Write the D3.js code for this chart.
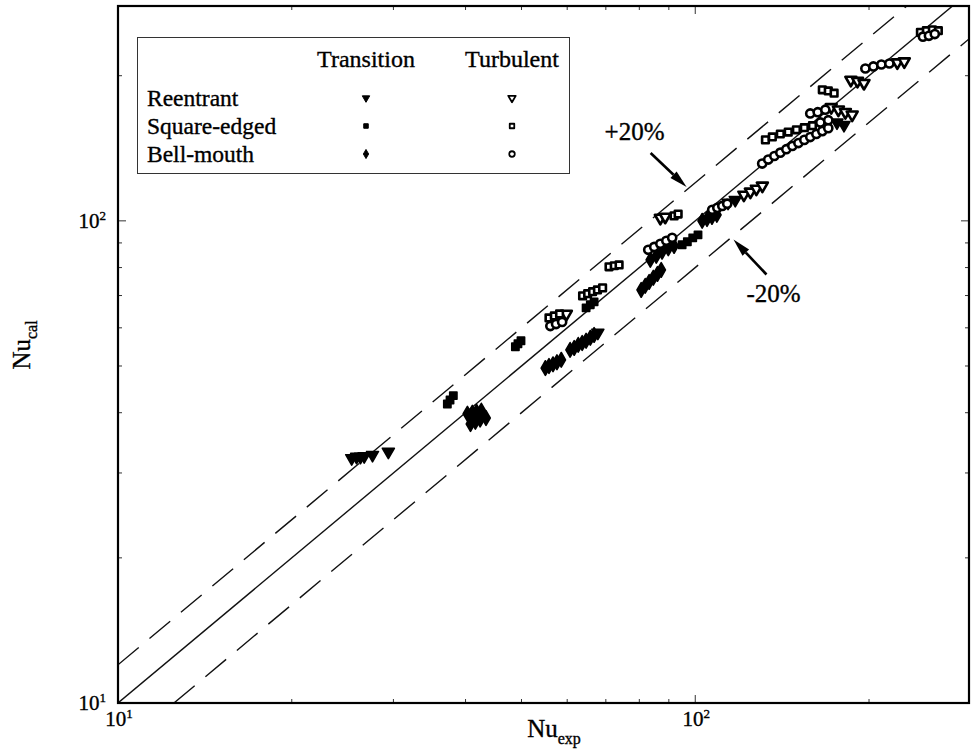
<!DOCTYPE html>
<html>
<head>
<meta charset="utf-8">
<script src="https://cdn.jsdelivr.net/npm/d3@7"></script>
<style>
  body { margin: 0; background: #fff; }
  svg { display: block; font-family: "Liberation Serif", "Times New Roman", serif; }
  text { stroke: #000; stroke-width: 0.35px; }
</style>
</head>
<body>
<svg id="chart" width="971" height="751"></svg>
<script>
// Nu_exp / Nu_cal pairs for each inlet type and flow regime
const reentrantTransition = [
  [25.4, 32.2], [25.9, 32.4], [26.3, 32.4], [26.7, 32.5], [27.6, 32.7], [29.4, 33.2],
  [67.8, 58.6],
  [114.0, 109.0], [117.3, 110.5],
  [176, 160], [181, 158]
];
const squareTransition = [
  [37.2, 41.7], [37.6, 42.5], [38.1, 43.4],
  [48.8, 54.8], [49.3, 55.6], [49.9, 56.4],
  [64.7, 66.0], [65.8, 67.0], [66.8, 67.9],
  [94.9, 89.2], [96.9, 90.5], [99.0, 92.2], [101.1, 93.5]
];
const bellTransition = [
  [40.3, 39.8], [41.1, 40.0], [41.8, 40.2], [42.6, 40.4],
  [40.8, 37.9], [41.6, 38.3], [42.4, 38.7], [43.4, 39.0],
  [55.0, 49.5], [55.8, 50.0], [56.7, 50.4], [57.6, 50.9], [58.6, 51.5],
  [60.7, 54.0], [61.7, 54.5], [62.7, 55.3], [63.7, 55.8], [64.7, 56.4], [65.8, 57.2], [66.8, 58.0],
  [80.6, 71.9], [81.9, 73.3], [83.2, 74.7], [84.6, 76.2], [86.0, 77.6], [87.3, 79.1],
  [83.6, 83.0], [85.6, 84.6], [87.6, 86.3], [89.8, 87.7], [91.9, 88.7],
  [102.8, 100.0], [104.8, 100.9], [106.9, 101.9], [109.0, 102.9]
];
const reentrantTurbulent = [
  [59.8, 64.1],
  [87.0, 101.4], [88.7, 101.9],
  [121.4, 113.2], [124.6, 114.9], [127.6, 116.5], [130.7, 118.2],
  [172, 172], [177, 170], [182, 168], [187, 166],
  [186, 196], [191, 195], [196, 193],
  [223.9, 213], [230.2, 214]
];
const squareTurbulent = [
  [55.8, 62.9], [57.0, 63.5], [58.2, 64.1],
  [63.8, 69.9], [65.1, 70.6], [66.4, 71.3], [67.7, 71.9], [69.1, 72.6],
  [70.9, 80.3], [72.4, 80.7], [73.8, 81.0],
  [91.9, 102.4], [93.4, 103.3],
  [132.3, 147.2], [136.0, 149.3], [140.4, 151.4], [144.9, 152.8], [149.7, 154.5], [154.5, 156.0], [159.6, 157.5],
  [166, 187], [170, 186], [174, 184],
  [245.5, 246], [251.4, 248], [257.5, 249], [263.7, 248]
];
const bellTurbulent = [
  [56.1, 60.5], [57.4, 61.1], [58.8, 61.7],
  [82.9, 87.1], [84.9, 88.3], [87.0, 89.6], [89.1, 90.9], [91.2, 92.2],
  [107.0, 105.4], [109.2, 106.4], [111.4, 107.4], [113.6, 108.5],
  [130.6, 131.5], [133.8, 134.0], [137.1, 136.3], [140.4, 138.5], [143.8, 140.8], [147.3, 143.0],
  [150.9, 145.0], [154.5, 147.2], [158.2, 149.2], [162.1, 151.4], [166.0, 153.5], [170.0, 155.7],
  [164.7, 160.0], [170.0, 161.7],
  [158.2, 167], [163, 168], [168, 170],
  [197.1, 207], [203.5, 209], [210.1, 211], [216.9, 212],
  [248, 241], [254, 242], [260, 244]
];

// axis ranges and ticks
const xDomain = [10, 298];
const yDomain = [10, 279];
const majorTicks = [10, 100];
const majorExponents = ["1", "2"];
const minorTicks = [20, 30, 40, 50, 60, 70, 80, 90, 200];

// deviation bands around the perfect-agreement line
const bandFactors = [1.0, 1.2, 0.8];
const bandLabels = ["+20%", "-20%"];

// legend rows / columns
const legendColumns = ["Transition", "Turbulent"];
const legendRows = ["Reentrant", "Square-edged", "Bell-mouth"];

const series = [
  { data: reentrantTransition, shape: "tri", filled: true },
  { data: squareTransition, shape: "square", filled: true },
  { data: bellTransition, shape: "diamond", filled: true },
  { data: reentrantTurbulent, shape: "tri", filled: false },
  { data: squareTurbulent, shape: "square", filled: false },
  { data: bellTurbulent, shape: "circle", filled: false }
];

const svg = d3.select("#chart");
const plot = { l: 118, r: 969, t: 6, b: 703 };

const x = d3.scaleLog().domain(xDomain).range([plot.l, plot.r]);
const y = d3.scaleLog().domain(yDomain).range([plot.b, plot.t]);

svg.append("rect").attr("width", 971).attr("height", 751).attr("fill", "#fff");

svg.append("defs").append("clipPath").attr("id", "plotClip")
  .append("rect")
  .attr("x", plot.l).attr("y", plot.t)
  .attr("width", plot.r - plot.l).attr("height", plot.b - plot.t);

// y = k x lines
const line = d3.line().x(d => x(d[0])).y(d => y(d[1]));
const guideG = svg.append("g").attr("clip-path", "url(#plotClip)");
bandFactors.forEach((k, i) => {
  const x0 = k < 1 ? yDomain[0] / k : xDomain[0];
  guideG.append("path")
    .attr("d", line([[x0, x0 * k], [xDomain[1], xDomain[1] * k]]))
    .attr("fill", "none")
    .attr("stroke", "#111")
    .attr("stroke-width", 1.4)
    .attr("stroke-dasharray", i === 0 ? null : "27,14");
});

// ticks on all four sides, pointing inward
const tickG = svg.append("g").attr("stroke", "#333").attr("stroke-width", 1);
function drawTicks(vals, len) {
  vals.forEach(v => {
    if (v >= xDomain[0] && v <= xDomain[1]) {
      tickG.append("line").attr("x1", x(v)).attr("x2", x(v)).attr("y1", plot.b).attr("y2", plot.b - len);
      tickG.append("line").attr("x1", x(v)).attr("x2", x(v)).attr("y1", plot.t).attr("y2", plot.t + len);
    }
    if (v >= yDomain[0] && v <= yDomain[1]) {
      tickG.append("line").attr("y1", y(v)).attr("y2", y(v)).attr("x1", plot.l).attr("x2", plot.l + len);
      tickG.append("line").attr("y1", y(v)).attr("y2", y(v)).attr("x1", plot.r).attr("x2", plot.r - len);
    }
  });
}
drawTicks(majorTicks, 8);
drawTicks(minorTicks, 4);

// frame
svg.append("rect")
  .attr("x", plot.l).attr("y", plot.t)
  .attr("width", plot.r - plot.l).attr("height", plot.b - plot.t)
  .attr("fill", "none").attr("stroke", "#000").attr("stroke-width", 2.2);

// tick labels 10^n
const labG = svg.append("g").attr("font-size", 21).attr("fill", "#000");
majorTicks.forEach((v, i) => {
  const tx = labG.append("text").attr("x", x(v) + 1).attr("y", 726).attr("text-anchor", "middle");
  tx.append("tspan").text("10");
  tx.append("tspan").attr("dy", -8).attr("font-size", 13).text(majorExponents[i]);
  const ty = labG.append("text").attr("x", plot.l - 12).attr("y", y(v) + 7).attr("text-anchor", "end");
  ty.append("tspan").text("10");
  ty.append("tspan").attr("dy", -8).attr("font-size", 13).text(majorExponents[i]);
});

// axis titles
const xt = svg.append("text").attr("x", 554).attr("y", 737).attr("text-anchor", "middle").attr("font-size", 25);
xt.append("tspan").text("Nu");
xt.append("tspan").attr("dy", 7).attr("font-size", 16).text("exp");
const yt = svg.append("text").attr("transform", "translate(30,345) rotate(-90)").attr("text-anchor", "middle").attr("font-size", 25);
yt.append("tspan").text("Nu");
yt.append("tspan").attr("dy", 7).attr("font-size", 16).text("cal");

// marker shapes
function symbolPath(shape, size) {
  if (shape === "tri") return d3.symbol().type(d3.symbolTriangle).size(size)();
  if (shape === "square") return d3.symbol().type(d3.symbolSquare).size(size * 0.85)();
  if (shape === "diamond") return d3.symbol().type(d3.symbolDiamond).size(size)();
  return d3.symbol().type(d3.symbolCircle).size(size)();
}
function drawMarker(g, shape, filled, cx, cy, size, sw) {
  g.append("path")
    .attr("d", symbolPath(shape, size))
    .attr("transform", `translate(${cx},${cy})` + (shape === "tri" ? " rotate(180)" : ""))
    .attr("fill", filled ? "#000" : "#fff")
    .attr("stroke", "#000")
    .attr("stroke-width", sw)
    .attr("stroke-linejoin", "round");
}

const markG = svg.append("g").attr("clip-path", "url(#plotClip)");
series.forEach(s => {
  s.data.forEach(d => {
    drawMarker(markG, s.shape, s.filled, x(d[0]), y(d[1]), s.filled ? 62 : 52, s.filled ? 1.6 : 2.6);
  });
});

// legend
const lg = svg.append("g");
lg.append("rect").attr("x", 137.5).attr("y", 37.5).attr("width", 432).attr("height", 136)
  .attr("fill", "#fff").attr("stroke", "#333").attr("stroke-width", 1);
const colX = [366, 512];
const rowY = [98, 126, 154];
lg.selectAll("text.col").data(legendColumns).join("text")
  .attr("x", (d, i) => colX[i]).attr("y", 67).attr("text-anchor", "middle").attr("font-size", 24).text(d => d);
lg.selectAll("text.row").data(legendRows).join("text")
  .attr("x", 147).attr("y", (d, i) => rowY[i] + 8).attr("font-size", 23.5).text(d => d);
series.forEach((s, i) => {
  const col = i < 3 ? 0 : 1;
  const row = i % 3;
  drawMarker(lg, s.shape, s.filled, colX[col], rowY[row], 24, s.filled ? 1 : 1.8);
});

// +/-20% annotations with arrows pointing at the band lines
function arrow(x1, y1, x2, y2) {
  const ang = Math.atan2(y2 - y1, x2 - x1);
  const hl = 18, hw = 4.5;
  const bx = x2 - hl * Math.cos(ang), by = y2 - hl * Math.sin(ang);
  svg.append("line").attr("x1", x1).attr("y1", y1).attr("x2", bx).attr("y2", by)
    .attr("stroke", "#000").attr("stroke-width", 2.6);
  const px = -Math.sin(ang) * hw, py = Math.cos(ang) * hw;
  svg.append("path")
    .attr("d", `M${x2},${y2}L${bx + px},${by + py}L${bx - px},${by - py}Z`)
    .attr("fill", "#000");
}
const upX = 97, upTip = [x(upX), y(upX * bandFactors[1])];
arrow(upTip[0] - 37, upTip[1] - 36, upTip[0] - 1, upTip[1] - 2);
svg.append("text").attr("x", upTip[0] - 83).attr("y", upTip[1] - 49).attr("font-size", 25).text(bandLabels[0]);

const dnX = 116, dnTip = [x(dnX), y(dnX * bandFactors[2])];
arrow(dnTip[0] + 34, dnTip[1] + 38, dnTip[0] + 1, dnTip[1] + 3);
svg.append("text").attr("x", dnTip[0] + 14).attr("y", dnTip[1] + 66).attr("font-size", 25).text(bandLabels[1]);
</script>
</body>
</html>
